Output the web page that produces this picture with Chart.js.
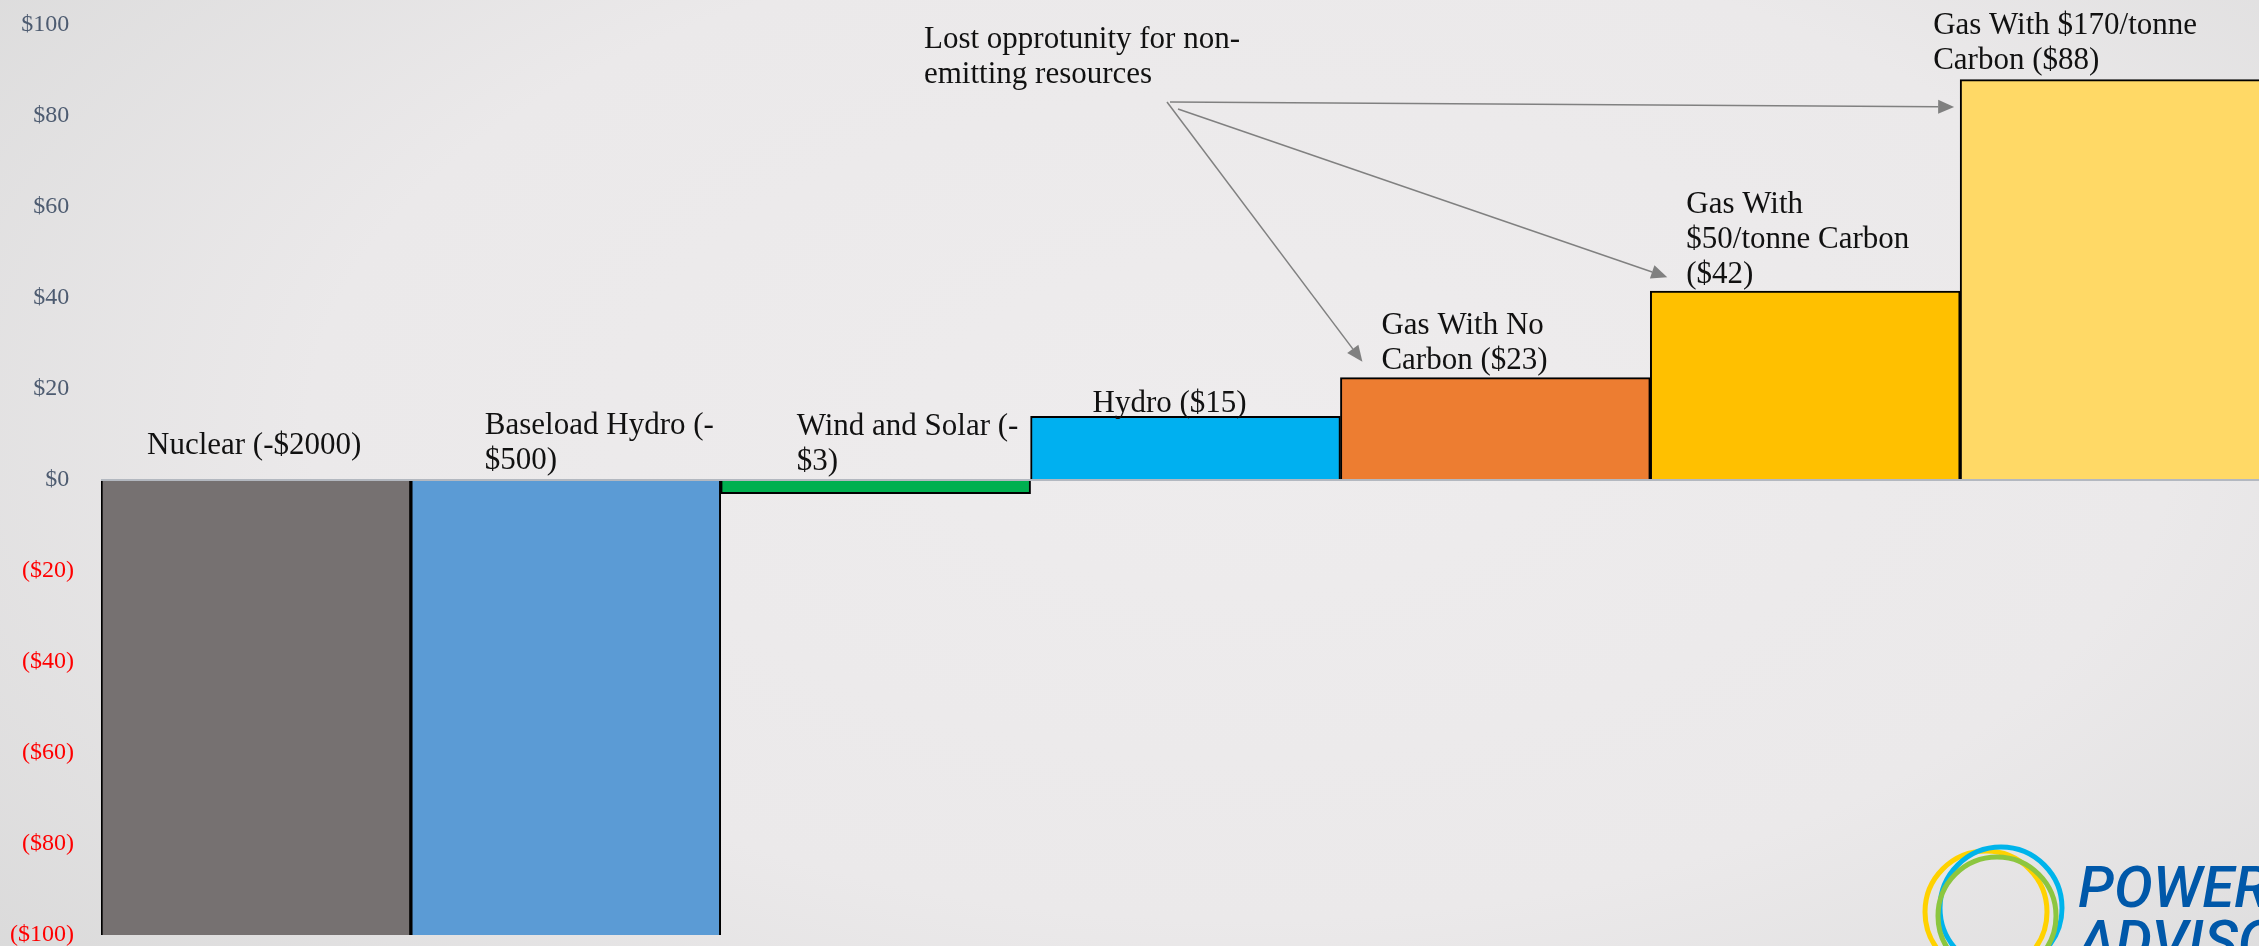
<!DOCTYPE html>
<html>
<head>
<meta charset="utf-8">
<script src="https://cdn.jsdelivr.net/npm/chart.js@4/dist/chart.umd.min.js"></script>
<style>
html, body {
    margin: 0;
    padding: 0;
    width: 2259px;
    height: 946px;
    overflow: hidden;
    background: radial-gradient(ellipse 75% 95% at 55% 45%, #eeeced 0%, #ebe9ea 55%, #d8d8d8 100%);
}
#wrap { position: absolute; left: 0; top: 0; width: 2270px; height: 946px; }
</style>
</head>
<body>
<div id="wrap"><canvas id="meritChart"></canvas></div>
<script>
// data
const categories = ["Nuclear", "Baseload Hydro", "Wind and Solar", "Hydro",
    "Gas With No Carbon", "Gas With $50/tonne Carbon", "Gas With $170/tonne Carbon"];
const costValues = [-2000, -500, -3, 14, 22.5, 41.5, 88];
const barColors = ["#767171", "#5b9bd5", "#00b050", "#00b0f0", "#ed7d31", "#ffc000", "#ffd966"];
const yTicks = [100, 80, 60, 40, 20, 0, -20, -40, -60, -80, -100];
const barLabels = [
    ["Nuclear (-$2000)"],
    ["Baseload Hydro (-", "$500)"],
    ["Wind and Solar (-", "$3)"],
    ["Hydro ($15)"],
    ["Gas With No", "Carbon ($23)"],
    ["Gas With", "$50/tonne Carbon", "($42)"],
    ["Gas With $170/tonne", "Carbon ($88)"]
];
const noteLines = ["Lost opprotunity for non-", "emitting resources"];
const logoLines = ["POWER", "ADVISORY"];

// label placement: x offset from bar left, y offset of last line from bar top
const labelDx = [46, 74, 76, 62, 41, 36, -27];
const labelDy = [-35, -20, -19, -12, -17, -16, -19];
const LINE_H = 35;
const SERIF = '"Liberation Serif", "DejaVu Serif", serif';

function drawArrow(ctx, x1, y1, x2, y2) {
    const ang = Math.atan2(y2 - y1, x2 - x1);
    const head = 16, half = 7;
    const bx = x2 - head * Math.cos(ang), by = y2 - head * Math.sin(ang);
    ctx.beginPath();
    ctx.moveTo(x1, y1);
    ctx.lineTo(bx, by);
    ctx.stroke();
    ctx.beginPath();
    ctx.moveTo(x2, y2);
    ctx.lineTo(bx + half * Math.sin(ang), by - half * Math.cos(ang));
    ctx.lineTo(bx - half * Math.sin(ang), by + half * Math.cos(ang));
    ctx.closePath();
    ctx.fill();
}

const notesPlugin = {
    id: 'notes',
    afterDraw(chart) {
        const ctx = chart.ctx;
        const meta = chart.getDatasetMeta(0);
        const yScale = chart.scales.y;
        const left = i => meta.data[i].x - meta.data[i].width / 2;
        const top = i => Math.min(meta.data[i].y, meta.data[i].base);

        ctx.save();
        ctx.font = '31px ' + SERIF;
        ctx.fillStyle = '#111';
        ctx.textAlign = 'left';
        ctx.textBaseline = 'middle';
        barLabels.forEach((lines, i) => {
            const x = left(i) + labelDx[i];
            const yLast = top(i) + labelDy[i];
            lines.forEach((t, k) => {
                ctx.fillText(t, x, yLast - (lines.length - 1 - k) * LINE_H);
            });
        });

        // callout text and arrows
        const noteX = 924, noteY = 40;
        noteLines.forEach((t, k) => ctx.fillText(t, noteX, noteY + k * LINE_H));
        ctx.strokeStyle = '#808080';
        ctx.fillStyle = '#808080';
        ctx.lineWidth = 1.5;
        drawArrow(ctx, noteX + 246, noteY + 62, left(6) - 6, yScale.getPixelForValue(82));
        drawArrow(ctx, noteX + 254, noteY + 69, left(5) + 17, top(5) - 14);
        drawArrow(ctx, noteX + 243, noteY + 62, left(4) + 22, top(4) - 16);

        // logo, bottom right
        ctx.lineWidth = 5;
        [['#ffd200', 1986, 912, 61], ['#00b4eb', 2001, 908, 61], ['#8cc63f', 1997, 916, 59]]
            .forEach(([c, cx, cy, r]) => {
                ctx.strokeStyle = c;
                ctx.beginPath();
                ctx.arc(cx, cy, r, 0, Math.PI * 2);
                ctx.stroke();
            });
        ctx.fillStyle = '#0058a9';
        ctx.font = 'italic 500 58px Roboto, "Liberation Sans", sans-serif';
        ctx.textBaseline = 'alphabetic';
        ctx.fillText(logoLines[0], 2078, 907);
        ctx.fillText(logoLines[1], 2078, 961);
        ctx.restore();
    }
};

document.addEventListener("DOMContentLoaded", function () {
    const canvas = document.getElementById("meritChart");

    new Chart(canvas.getContext("2d"), {
        type: "bar",
        data: {
            labels: categories,
            datasets: [{
                data: costValues,
                backgroundColor: barColors,
                borderColor: '#000',
                borderWidth: 2,
                barPercentage: 1,
                categoryPercentage: 1,
                clip: 0,
            }],
        },
        options: {
            responsive: true,
            maintainAspectRatio: false,
            animation: false,
            layout: { padding: { top: 25, bottom: 11, left: 0, right: 0 } },
            plugins: { legend: { display: false }, tooltip: { enabled: false } },
            scales: {
                x: { display: false },
                y: {
                    min: -100,
                    max: 100,
                    z: 1,
                    afterBuildTicks: s => { s.ticks = yTicks.map(v => ({ value: v })); },
                    afterFit: s => { s.width = 101; s.paddingTop = 0; s.paddingBottom = 0; },
                    border: { display: false },
                    grid: {
                        drawTicks: false,
                        lineWidth: 2,
                        color: c => (c.tick && c.tick.value === 0) ? '#b3b8c0' : 'rgba(0,0,0,0)',
                    },
                    ticks: {
                        padding: 27,
                        font: { family: SERIF, size: 24, lineHeight: 1 },
                        color: c => c.tick.value < 0 ? '#ff0000' : '#4d5b70',
                        callback: v => v < 0 ? '($' + (-v) + ')' : '$' + v + '\u2009',
                    },
                },
            },
        },
        plugins: [notesPlugin],
    });
});
</script>
</body>
</html>
